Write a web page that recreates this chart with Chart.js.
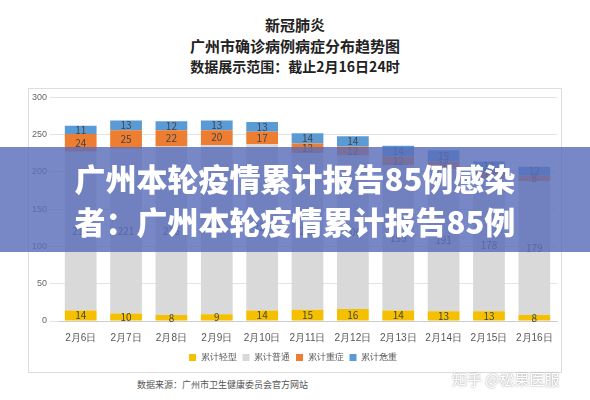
<!DOCTYPE html>
<html><head><meta charset="utf-8">
<script src="https://cdn.jsdelivr.net/npm/chart.js@4"></script>
<style>
body{margin:0;width:590px;height:400px;background:#fff;font-family:"Noto Sans CJK SC",sans-serif;position:relative;overflow:hidden}
.t{position:absolute;left:0;width:590px;text-align:center;font-weight:bold;color:#222}
#box{position:absolute;left:28px;top:88px;width:534px;height:285px;border:1px solid #ddd;box-sizing:border-box}
#banner{position:absolute;left:0;top:147px;width:590px;height:105px;background:rgba(90,110,185,0.82);color:#fff;font-weight:900;font-size:31px;line-height:43px;text-align:center;padding-top:9px;box-sizing:border-box;letter-spacing:0px}
</style></head><body>
<div class="t" style="top:14px;font-size:15px">新冠肺炎</div>
<div class="t" style="top:35px;font-size:15px">广州市确诊病例病症分布趋势图</div>
<div class="t" style="top:56px;font-size:14px">数据展示范围：截止2月16日24时</div>
<div id="box"><canvas id="c"></canvas></div>
<div id="banner">广州本轮疫情累计报告85例感染<br>者：广州本轮疫情累计报告85例</div>
<div style="position:absolute;left:137px;top:378px;font-size:9px;color:#555">数据来源：广州市卫生健康委员会官方网站</div>
<div style="position:absolute;left:452px;top:368px;font-size:15px;color:#fff;text-shadow:0 0 2px #888">知乎 @松果医服</div>
<script>
const categories=["2月6日","2月7日","2月8日","2月9日","2月10日","2月11日","2月12日","2月13日","2月14日","2月15日","2月16日"];
const mild=[14,10,8,9,14,15,16,14,13,13,8];
const normal=[213,221,226,227,223,210,206,195,191,178,179];
const severe=[24,25,22,20,17,13,12,12,10,10,8];
const critical=[11,13,12,13,13,14,14,14,15,13,12];
const yTicks=[0,50,100,150,200,250,300];
const labelsPlugin={id:'lbl',afterDatasetsDraw(ch){const ctx=ch.ctx;ctx.save();ctx.font='10px "Noto Sans CJK SC"';ctx.textAlign='center';ctx.textBaseline='middle';
ch.data.datasets.forEach((d,i)=>{ch.getDatasetMeta(i).data.forEach((b,j)=>{ctx.fillStyle='#444';ctx.fillText(d.data[j],b.x,(b.y+b.base)/2);});});ctx.restore();}};
new Chart(document.getElementById('c'),{type:'bar',
data:{labels:categories,datasets:[
{label:'累计轻型',data:mild,backgroundColor:'#f5c000'},
{label:'累计普通',data:normal,backgroundColor:'#d9d9d9'},
{label:'累计重症',data:severe,backgroundColor:'#ed7d31'},
{label:'累计危重',data:critical,backgroundColor:'#5b9bd5'}]},
options:{responsive:true,maintainAspectRatio:false,animation:false,
layout:{padding:{left:0,right:4,top:6,bottom:0}},
scales:{x:{stacked:true,grid:{display:false},border:{color:'#ccc'},ticks:{color:'#555',font:{size:10}}},
y:{stacked:true,min:0,max:300,afterBuildTicks(a){a.ticks=yTicks.map(v=>({value:v}))},grid:{color:'#e3e3e3'},border:{display:false},ticks:{color:'#666',font:{size:9}}}},
datasets:{bar:{categoryPercentage:0.7,barPercentage:1}},
plugins:{legend:{position:'bottom',labels:{boxWidth:7,boxHeight:7,font:{size:9},color:'#555',padding:6}},tooltip:{enabled:false}}},
plugins:[labelsPlugin]});
</script></body></html>
